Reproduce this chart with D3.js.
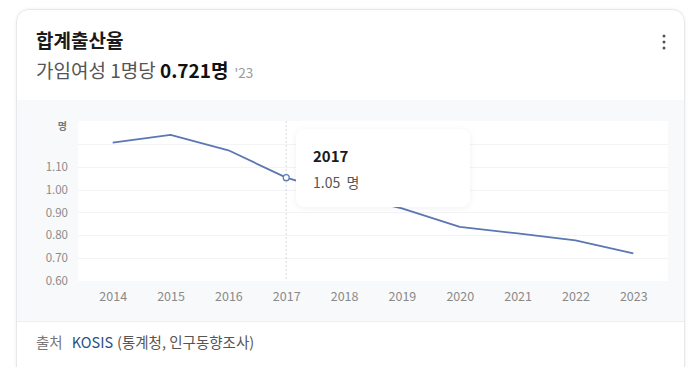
<!DOCTYPE html>
<html><head><meta charset="utf-8">
<script src="https://cdn.jsdelivr.net/npm/d3@7"></script>
<style>
html,body{margin:0;padding:0;background:#fff;}
svg{display:block;font-family:"Noto Sans CJK KR","Noto Sans",sans-serif;}
</style></head>
<body>
<svg id="c" width="694" height="367"></svg>
<script>
const years = [2014,2015,2016,2017,2018,2019,2020,2021,2022,2023];
const rates = [1.205,1.239,1.172,1.052,0.977,0.918,0.837,0.808,0.778,0.721];
const yTicks = [0.6,0.7,0.8,0.9,1.0,1.1];
const gridTicks = [0.7,0.8,0.9,1.0,1.1,1.2];
const title = "합계출산율";
const subtitle = "가임여성 1명당 ";
const headline = "0.721명";
const headYear = "'23";
const unit = "명";
const hoverIndex = 3;
const sourceLabel = "출처";
const sourceName = "KOSIS";
const sourceDetail = "(통계청, 인구동향조사)";

(function(){
const svg = d3.select("#c");
const defs = svg.append("defs");
const f = defs.append("filter").attr("id","sh").attr("x","-20%").attr("y","-20%").attr("width","140%").attr("height","150%");
f.append("feDropShadow").attr("dx",0).attr("dy",1).attr("stdDeviation",3).attr("flood-color","#000").attr("flood-opacity",0.06);
const cf = defs.append("filter").attr("id","csh").attr("x","-5%").attr("y","-5%").attr("width","110%").attr("height","110%");
cf.append("feDropShadow").attr("dx",0).attr("dy",0).attr("stdDeviation",1.5).attr("flood-color","#000").attr("flood-opacity",0.07);

// card
svg.append("rect").attr("x",16.5).attr("y",9.5).attr("width",668).attr("height",380).attr("rx",12)
  .attr("fill","#fff").attr("stroke","#e6e8eb").attr("filter","url(#csh)");
// chart bg region
svg.append("rect").attr("x",17).attr("y",100).attr("width",667).attr("height",221).attr("fill","#f8f9fa");
svg.append("line").attr("x1",17).attr("x2",684).attr("y1",321.5).attr("y2",321.5).attr("stroke","#eceef0");

// header
svg.append("text").attr("x",36).attr("y",48).attr("font-size",19).attr("font-weight",700).attr("fill","#1a1a1a").text(title);
const st = svg.append("text").attr("x",36).attr("y",78).attr("font-size",19).attr("fill","#555");
st.append("tspan").text(subtitle);
st.append("tspan").attr("font-weight",700).attr("fill","#111").text(headline);
st.append("tspan").attr("font-size",13.5).attr("fill","#999").attr("dx",6).text(headYear);
// kebab
[36,42,48].forEach(cy=>svg.append("circle").attr("cx",664).attr("cy",cy).attr("r",1.5).attr("fill","#555"));

// plot
const pL=78,pR=668,pT=121,pB=281;
const x = d3.scalePoint().domain(years).range([pL,pR]).padding(0.6);
const y = d3.scaleLinear().domain([0.6,1.3]).range([pB,pT]);
svg.append("rect").attr("x",pL).attr("y",pT).attr("width",pR-pL).attr("height",pB-pT).attr("fill","#fff");
svg.append("g").selectAll("line").data(gridTicks).join("line")
  .attr("x1",pL).attr("x2",pR).attr("y1",d=>Math.round(y(d))+0.5).attr("y2",d=>Math.round(y(d))+0.5)
  .attr("stroke","#f3f4f6");

// y axis labels
const ya = svg.append("g").attr("transform",`translate(${pL-10},0)`)
  .call(d3.axisLeft(y).tickValues(yTicks).tickFormat(d3.format(".2f")).tickSize(0).tickPadding(0));
ya.select(".domain").remove();
ya.selectAll("text").attr("font-size",11.5).attr("fill","#8a8a8a").attr("font-family","'Noto Sans CJK KR',sans-serif");
svg.append("text").attr("x",pL-11).attr("y",130).attr("text-anchor","end").attr("font-size",10).attr("font-weight",700).attr("fill","#777").text(unit);

// x axis labels
const xa = svg.append("g").attr("transform",`translate(0,${pB+8})`)
  .call(d3.axisBottom(x).tickSize(0).tickPadding(0));
xa.select(".domain").remove();
xa.selectAll("text").attr("font-size",12.5).attr("fill","#8a8a8a").attr("dy","0.95em").attr("font-family","'Noto Sans CJK KR',sans-serif");

// crosshair
const hx = x(years[hoverIndex]);
svg.append("line").attr("x1",hx).attr("x2",hx).attr("y1",pT).attr("y2",pB)
  .attr("stroke","#d8dadd").attr("stroke-dasharray","2,2");

// line
const line = d3.line().x((d,i)=>x(years[i])).y(d=>y(d));
svg.append("path").datum(rates).attr("d",line).attr("fill","none").attr("stroke","#5a77b4").attr("stroke-width",1.8).attr("stroke-linejoin","round");
svg.append("circle").attr("cx",hx).attr("cy",y(rates[hoverIndex])).attr("r",3).attr("fill","#fff").attr("stroke","#5a77b4").attr("stroke-width",1.2);

// tooltip
const tt = svg.append("g").attr("transform","translate(296,129)");
tt.append("rect").attr("width",174).attr("height",78).attr("rx",9).attr("fill","#fff").attr("filter","url(#sh)");
tt.append("text").attr("x",17).attr("y",33).attr("font-size",15).attr("font-weight",700).attr("fill","#1a1a1a").text(years[hoverIndex]);
tt.append("text").attr("x",17).attr("y",59).attr("font-size",14).attr("fill","#555").text(d3.format(".2f")(rates[hoverIndex])+"  "+unit).attr("xml:space","preserve");

// footer
const ft = svg.append("text").attr("x",36).attr("y",348).attr("font-size",14.5).attr("fill","#777");
ft.append("tspan").text(sourceLabel);
ft.append("tspan").attr("dx",9).attr("fill","#2b4f86").text(sourceName);
ft.append("tspan").attr("dx",4).attr("fill","#555").text(sourceDetail);
})();
</script>
</body></html>
